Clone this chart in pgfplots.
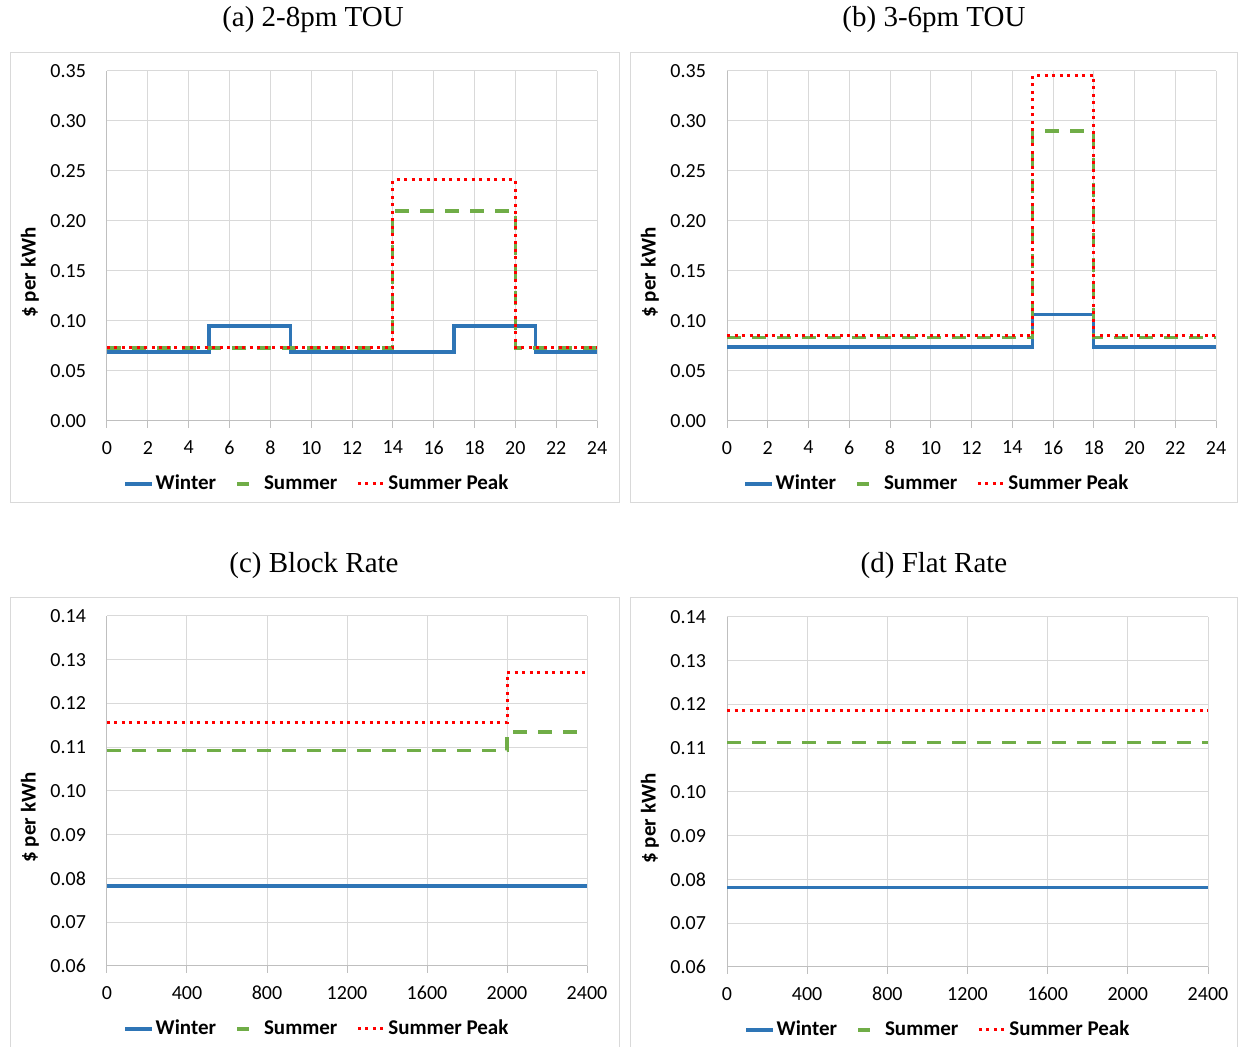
\documentclass[border=0pt]{standalone}
\usepackage{fontspec}
\setmainfont{Carlito}
\newfontfamily\titlefont{Liberation Serif}
\usepackage{pgfplots}
\pgfplotsset{compat=1.18}
\definecolor{winter}{HTML}{2E75B6}
\definecolor{summer}{HTML}{70AD47}
\definecolor{peak}{HTML}{FF0000}
\definecolor{gridgray}{HTML}{D9D9D9}
\definecolor{axgray}{HTML}{BFBFBF}

\pgfplotsset{
  rate/.style={
    scale only axis, anchor=south west, clip=false,
    axis lines*=left,
    axis line style={draw=axgray, line width=0.5pt},
    grid=major, major grid style={draw=gridgray, line width=0.5pt},
    ytick style={draw=none},
    xtick style={draw=axgray, line width=0.5pt},
    tick align=outside, major tick length=3.5pt,
    tick label style={font=\fontsize{10}{12}\selectfont, text=black},
    /pgf/number format/assume math mode=true,
    xticklabel style={yshift=-3pt, /pgf/number format/.cd, 1000 sep={}},
    yticklabel style={xshift=-3.5pt, /pgf/number format/.cd, fixed, fixed zerofill, precision=2},
    ylabel={\$ per kWh},
    every axis y label/.style={at={([xshift=-38.5pt,yshift=-13.25pt]axis description cs:0,0.5)},
      rotate=90, anchor=center, font=\bfseries\fontsize{10.5}{12}\selectfont},
    legend columns=3,
    legend style={draw=none, fill=none, inner sep=0pt, row sep=0pt,
      at={(axis description cs:0.5,0)}, anchor=center, yshift=-31.5pt,
      font=\bfseries\fontsize{10.5}{12}\selectfont, nodes={inner sep=0pt},
      /tikz/every odd column/.append style={column sep=1pt},
      /tikz/every even column/.append style={column sep=9.5pt}},
  },
  wline/.style={const plot, draw=winter, line width=1.6pt,
    legend image code/.code={\draw[winter, line width=1.6pt] (0pt,0pt) -- (13.5pt,0pt);}},
  sline/.style={const plot, draw=summer, line width=1.6pt, dash pattern=on 7pt off 5.5pt,
    legend image code/.code={\path[draw=none] (0pt,0pt) -- (13.5pt,0pt); \draw[summer, line width=1.6pt, solid] (1pt,0pt) -- (7pt,0pt);}},
  pline/.style={const plot, draw=peak, line width=1.5pt, dash pattern=on 1.5pt off 2.25pt,
    legend image code/.code={\draw[peak, line width=1.5pt, dash pattern=on 1.5pt off 2.25pt] (0pt,0pt) -- (13.5pt,0pt);}},
  hours/.style={xmin=0, xmax=24, xtick={0,2,...,24}, ymin=0, ymax=0.35, ytick={0,0.05,...,0.36}},
  kwh/.style={xmin=0, xmax=2400, xtick={0,400,...,2400}, ymin=0.06, ymax=0.14, ytick={0.06,0.07,...,0.145}},
}

\begin{document}
\begin{tikzpicture}
\useasboundingbox (0,0) rectangle (619pt,523.5pt);

% panel frames
\draw[gridgray, line width=0.5pt] (5pt,272pt) rectangle (309.5pt,497pt);
\draw[gridgray, line width=0.5pt] (315pt,272pt) rectangle (618.5pt,497pt);
\draw[gridgray, line width=0.5pt] (5pt,-6pt) rectangle (309.5pt,224.5pt);
\draw[gridgray, line width=0.5pt] (315pt,-6pt) rectangle (618.5pt,224.5pt);

% titles
\begin{scope}[every node/.style={font=\titlefont\fontsize{14.5}{17}\selectfont}]
\node at (156.5pt,513.5pt) {(a) 2-8pm TOU};
\node at (467pt,513.5pt) {(b) 3-6pm TOU};
\node at (157pt,240.5pt) {(c) Block Rate};
\node at (467pt,240.5pt) {(d) Flat Rate};
\end{scope}

% (a) 2-8pm TOU
\begin{axis}[rate, hours, at={(53.5pt,313pt)}, width=245pt, height=175pt,
  legend style={xshift=-18pt}]
\addplot[wline] coordinates {(0,0.069) (5,0.095) (9,0.069) (17,0.095) (21,0.069) (24,0.069)};
\addplot[sline] coordinates {(0,0.073) (14,0.210) (20,0.073) (24,0.073)};
\addplot[pline] coordinates {(0,0.073) (14,0.241) (20,0.073) (24,0.073)};
\legend{Winter,Summer,Summer Peak}
\end{axis}

% (b) 3-6pm TOU
\begin{axis}[rate, hours, at={(363.5pt,313pt)}, width=244.5pt, height=175pt,
  legend style={xshift=-17.75pt}]
\addplot[wline] coordinates {(0,0.074) (15,0.1065) (18,0.074) (24,0.074)};
\addplot[sline] coordinates {(0,0.0833) (15,0.290) (18,0.0833) (24,0.0833)};
\addplot[pline] coordinates {(0,0.0853) (15,0.3453) (18,0.0853) (24,0.0853)};
\legend{Winter,Summer,Summer Peak}
\end{axis}

% (c) Block Rate
\begin{axis}[rate, kwh, at={(53.5pt,40.5pt)}, width=240pt, height=175pt,
  legend style={xshift=-15.5pt}]
\addplot[wline] coordinates {(0,0.0783) (2400,0.0783)};
\addplot[sline] coordinates {(0,0.1092) (2000,0.1135) (2400,0.1135)};
\addplot[pline] coordinates {(0,0.1157) (2000,0.1271) (2400,0.1271)};
\legend{Winter,Summer,Summer Peak}
\end{axis}

% (d) Flat Rate
\begin{axis}[rate, kwh, at={(363.5pt,40pt)}, width=240.5pt, height=175pt,
  legend style={xshift=-15.25pt}]
\addplot[wline] coordinates {(0,0.0782) (2400,0.0782)};
\addplot[sline] coordinates {(0,0.1114) (2400,0.1114)};
\addplot[pline] coordinates {(0,0.1186) (2400,0.1186)};
\legend{Winter,Summer,Summer Peak}
\end{axis}
\end{tikzpicture}
\end{document}
